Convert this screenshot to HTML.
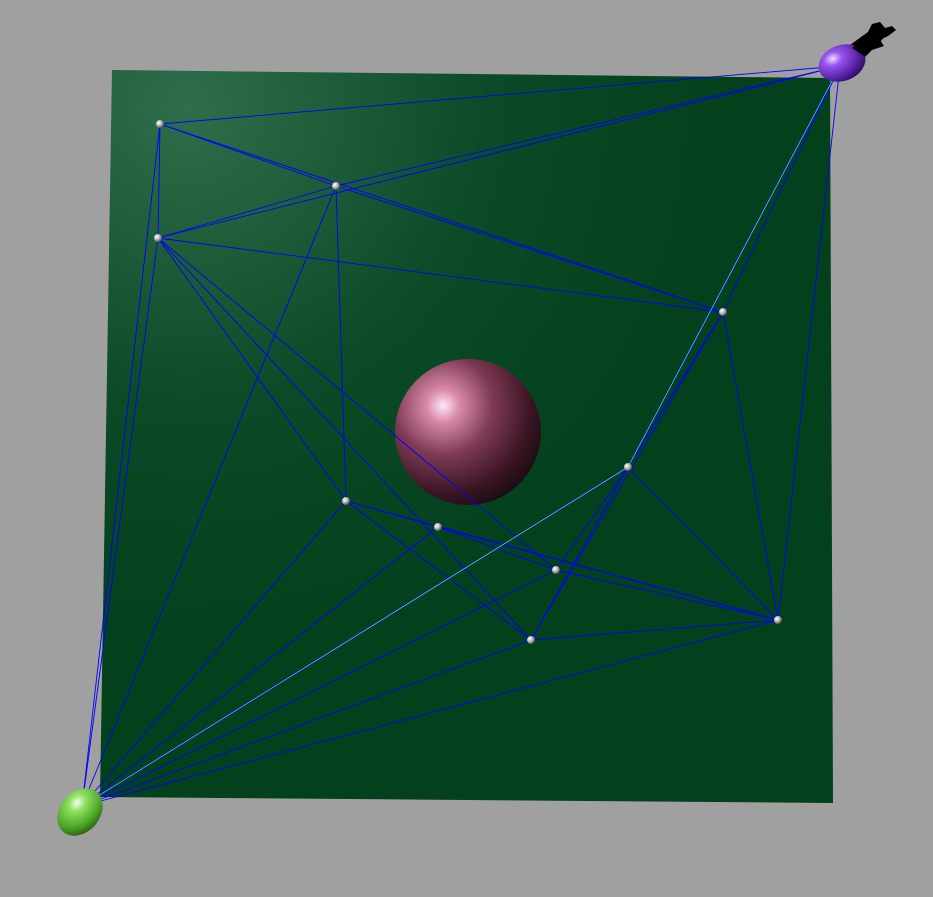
<!DOCTYPE html>
<html><head><meta charset="utf-8"><style>
html,body{margin:0;padding:0;background:#a0a0a0;width:933px;height:897px;overflow:hidden}
svg{display:block}
</style></head><body>
<svg id="scene" width="933" height="897" viewBox="0 0 933 897" xmlns="http://www.w3.org/2000/svg">
<defs>
<radialGradient id="planeG" cx="0.12" cy="0.05" r="0.75">
<stop offset="0" stop-color="#2e6e4a"/><stop offset="0.55" stop-color="#0b4a26"/><stop offset="1" stop-color="#03401c"/>
</radialGradient>
<radialGradient id="ballG" cx="0.33" cy="0.32" r="0.75">
<stop offset="0" stop-color="#ffe6ff"/><stop offset="0.15" stop-color="#d88aa8"/><stop offset="0.45" stop-color="#7e3a55"/><stop offset="0.8" stop-color="#3a1524"/><stop offset="1" stop-color="#1c0c12"/>
</radialGradient>
<radialGradient id="greenG" cx="0.3" cy="0.4" r="0.75">
<stop offset="0" stop-color="#f4fff0"/><stop offset="0.25" stop-color="#8fe060"/><stop offset="0.7" stop-color="#4aa526"/><stop offset="1" stop-color="#2c5a14"/>
</radialGradient>
<radialGradient id="purpleG" cx="0.35" cy="0.3" r="0.75">
<stop offset="0" stop-color="#f2e0ff"/><stop offset="0.25" stop-color="#9a55f0"/><stop offset="0.7" stop-color="#5a24a8"/><stop offset="1" stop-color="#2c0e60"/>
</radialGradient>
<radialGradient id="nodeG" cx="0.35" cy="0.35" r="0.7">
<stop offset="0" stop-color="#ffffff"/><stop offset="0.5" stop-color="#b8b8b8"/><stop offset="1" stop-color="#444"/>
</radialGradient>
</defs>
<polygon points="112,70 830,78 833,803 100,797" fill="url(#planeG)"/>
<circle cx="468" cy="432" r="73" fill="url(#ballG)"/>
<g id="edges"></g>
<g id="nodes"></g>
<ellipse cx="80" cy="812" rx="20" ry="26" transform="rotate(40 80 812)" fill="url(#greenG)"/>
<path d="M850,45 L868,32 L872,24 L880,22 L885,28 L892,26 L896,30 L888,36 L880,40 L884,46 L872,50 L862,60 L845,58 Z" fill="#000"/>
<ellipse cx="842" cy="63" rx="24" ry="18" transform="rotate(-20 842 63)" fill="url(#purpleG)"/>
<path d="M852,48 L866,36 L874,30 L890,30 L880,42 L872,48 L864,56 Z" fill="#000"/>
</svg>
<script>
const nodeNames = ["S","G","N1","N2","N3","N4","N5","N6","N7","N8","N9","N10"];
const nodeX = [840, 82, 160, 336, 158, 723, 628, 346, 438, 556, 531, 778];
const nodeY = [66, 806, 124, 186, 238, 312, 467, 501, 527, 570, 640, 620];
const edgeFrom = ["N1","N1","N1","N1","N1","N2","N2","N2","N2","N2","N3","N3","N3","N3","N3","N4","N4","N4","N4","N5","N5","N5","N6","N6","N6","N6","N7","N7","N7","N8","N8","N9","N9","N10","N10","N3"];
const edgeTo   = ["S","N2","N3","N4","G","S","N3","N4","N6","G","S","N4","N9","N8","G","S","N5","N10","N9","N8","N9","N10","N7","N10","N9","G","N8","N10","G","N10","G","N10","G","G","S","N6"];
const greenFrom = ["N5","N5"];
const greenTo = ["S","G"];
const NS = "http://www.w3.org/2000/svg";
function px(n){return nodeX[nodeNames.indexOf(n)];}
function py(n){return nodeY[nodeNames.indexOf(n)];}
const eg = document.getElementById('edges');
function addLine(a,b,color,name,w){
  const l=document.createElementNS(NS,'line');
  
  
  l.setAttribute('x1',px(a));l.setAttribute('y1',py(a));
  l.setAttribute('x2',px(b));l.setAttribute('y2',py(b));
  l.setAttribute('stroke',color);l.setAttribute('stroke-width',w);
  eg.appendChild(l);
}
for(let i=0;i<edgeFrom.length;i++){
  addLine(edgeFrom[i],edgeTo[i],'#0000ff','edge-'+edgeFrom[i]+'-'+edgeTo[i],0.9);
}
for(let i=0;i<greenFrom.length;i++){
  addLine(greenFrom[i],greenTo[i],'#0000ff','path-edge-outline',2);
  addLine(greenFrom[i],greenTo[i],'#33ff33','path-edge-'+greenFrom[i]+'-'+greenTo[i],0.8);
}
const ng=document.getElementById('nodes');
for(let i=2;i<nodeNames.length;i++){
  const c=document.createElementNS(NS,'circle');
  
  
  c.setAttribute('cx',nodeX[i]);c.setAttribute('cy',nodeY[i]);c.setAttribute('r',4);
  c.setAttribute('fill','url(#nodeG)');
  ng.appendChild(c);
}
</script>
</body></html>
